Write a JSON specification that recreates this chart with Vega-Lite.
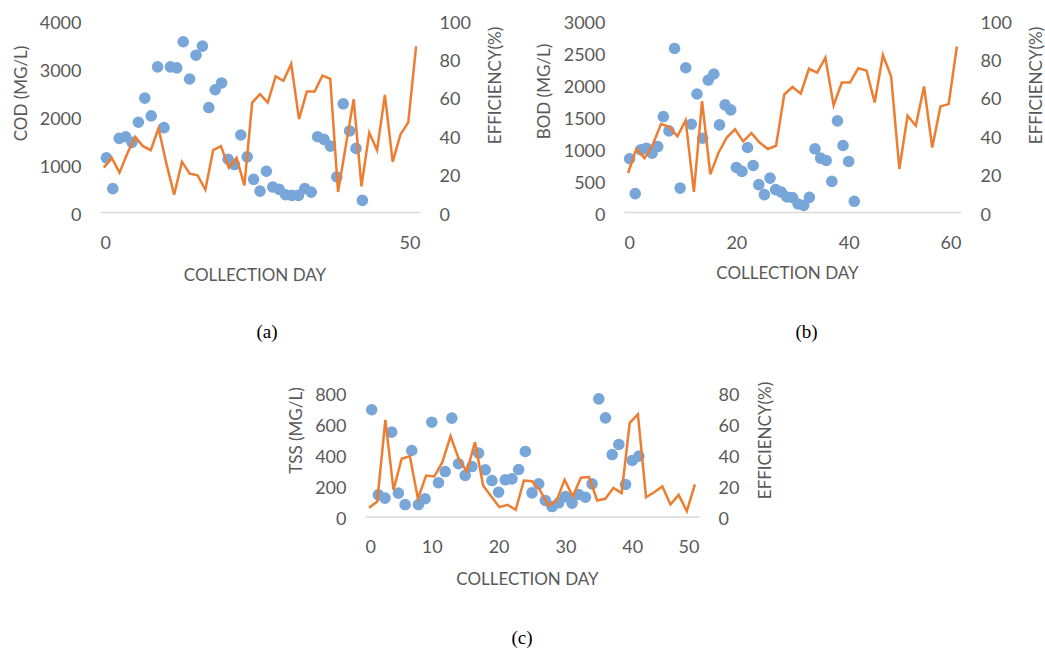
{
  "$schema": "https://vega.github.io/schema/vega-lite/v6.json",
  "padding": {"left": 12, "top": 14, "right": 5, "bottom": 5},
  "background": "white",
  "config": {
    "view": {"stroke": null},
    "font": "Lato",
    "axis": {"labelFont": "Lato", "titleFont": "Lato", "labelFontSize": 18, "titleFontSize": 17, "labelColor": "#595959", "titleColor": "#595959", "titleFontWeight": "normal", "grid": false, "ticks": false, "domain": false, "labelPadding": 19, "format": "d"},
    "axisY": {"labelOffset": 3},
    "title": {"font": "Liberation Serif", "fontSize": 19, "fontWeight": "normal", "color": "#000000"}
  },
  "datasets": {
    "a": [
      {"day": 1, "cod": 1128, "eff": 23.1}, {"day": 2, "cod": 486, "eff": 28.2}, {"day": 3, "cod": 1535, "eff": 20.5}, {"day": 4, "cod": 1568, "eff": 30.5}, {"day": 5, "cod": 1451, "eff": 39.2}, {"day": 6, "cod": 1870, "eff": 34.3}, {"day": 7, "cod": 2373, "eff": 32.2}, {"day": 8, "cod": 2002, "eff": 43.6}, {"day": 9, "cod": 3023, "eff": 25.3}, {"day": 10, "cod": 1757, "eff": 9.0},
      {"day": 11, "cod": 3023, "eff": 26.1}, {"day": 12, "cod": 3002, "eff": 20.0}, {"day": 13, "cod": 3547, "eff": 19.1}, {"day": 14, "cod": 2771, "eff": 11.6}, {"day": 15, "cod": 3266, "eff": 32.2}, {"day": 16, "cod": 3455, "eff": 34.3}, {"day": 17, "cod": 2176, "eff": 23.1}, {"day": 18, "cod": 2547, "eff": 28.2}, {"day": 19, "cod": 2688, "eff": 13.9}, {"day": 20, "cod": 1100, "eff": 57.0},
      {"day": 21, "cod": 989, "eff": 61.4}, {"day": 22, "cod": 1604, "eff": 57.0}, {"day": 23, "cod": 1149, "eff": 70.6}, {"day": 24, "cod": 681, "eff": 68.3}, {"day": 25, "cod": 436, "eff": 77.1}, {"day": 26, "cod": 849, "eff": 48.4}, {"day": 27, "cod": 520, "eff": 62.7}, {"day": 28, "cod": 472, "eff": 62.7}, {"day": 29, "cod": 360, "eff": 71.1}, {"day": 30, "cod": 346, "eff": 69.4},
      {"day": 31, "cod": 346, "eff": 10.4}, {"day": 32, "cod": 486, "eff": 34.7}, {"day": 33, "cod": 415, "eff": 58.7}, {"day": 34, "cod": 1568, "eff": 13.4}, {"day": 35, "cod": 1514, "eff": 41.3}, {"day": 36, "cod": 1373, "eff": 32.2}, {"day": 37, "cod": 730, "eff": 61.0}, {"day": 38, "cod": 2254, "eff": 26.1}, {"day": 39, "cod": 1688, "eff": 40.4}, {"day": 40, "cod": 1325, "eff": 46.7},
      {"day": 41, "cod": 241, "eff": 86.3}
    ],
    "b": [
      {"day": 1, "bod": 832, "eff": 20.3}, {"day": 2, "bod": 287, "eff": 32.9}, {"day": 3, "bod": 972, "eff": 28.1}, {"day": 4, "bod": 997, "eff": 35.0}, {"day": 5, "bod": 919, "eff": 45.8}, {"day": 6, "bod": 1023, "eff": 44.3}, {"day": 7, "bod": 1491, "eff": 39.4}, {"day": 8, "bod": 1268, "eff": 47.8}, {"day": 9, "bod": 2555, "eff": 10.5}, {"day": 10, "bod": 374, "eff": 57.8},
      {"day": 11, "bod": 2254, "eff": 19.6}, {"day": 12, "bod": 1371, "eff": 30.9}, {"day": 13, "bod": 1844, "eff": 38.8}, {"day": 14, "bod": 1153, "eff": 43.1}, {"day": 15, "bod": 2062, "eff": 36.8}, {"day": 16, "bod": 2156, "eff": 41.1}, {"day": 17, "bod": 1361, "eff": 36.2}, {"day": 18, "bod": 1673, "eff": 32.8}, {"day": 19, "bod": 1595, "eff": 34.5}, {"day": 20, "bod": 696, "eff": 61.2},
      {"day": 21, "bod": 634, "eff": 65.1}, {"day": 22, "bod": 1008, "eff": 61.6}, {"day": 23, "bod": 727, "eff": 74.6}, {"day": 24, "bod": 427, "eff": 72.6}, {"day": 25, "bod": 271, "eff": 80.4}, {"day": 26, "bod": 530, "eff": 55.5}, {"day": 27, "bod": 349, "eff": 67.4}, {"day": 28, "bod": 312, "eff": 67.4}, {"day": 29, "bod": 235, "eff": 74.9}, {"day": 30, "bod": 225, "eff": 73.7},
      {"day": 31, "bod": 125, "eff": 57.0}, {"day": 32, "bod": 104, "eff": 81.8}, {"day": 33, "bod": 229, "eff": 70.6}, {"day": 34, "bod": 988, "eff": 22.4}, {"day": 35, "bod": 841, "eff": 50.1}, {"day": 36, "bod": 805, "eff": 44.9}, {"day": 37, "bod": 478, "eff": 65.4}, {"day": 38, "bod": 1424, "eff": 33.6}, {"day": 39, "bod": 1039, "eff": 55.0}, {"day": 40, "bod": 790, "eff": 56.2},
      {"day": 41, "bod": 167, "eff": 86.2}
    ],
    "c": [
      {"day": 1, "tss": 686, "eff": 5.6}, {"day": 2, "tss": 139, "eff": 9.6}, {"day": 3, "tss": 118, "eff": 62.1}, {"day": 4, "tss": 542, "eff": 17.1}, {"day": 5, "tss": 150, "eff": 37.1}, {"day": 6, "tss": 77, "eff": 38.8}, {"day": 7, "tss": 424, "eff": 11.4}, {"day": 8, "tss": 77, "eff": 26.3}, {"day": 9, "tss": 114, "eff": 25.7}, {"day": 10, "tss": 606, "eff": 34.9},
      {"day": 11, "tss": 217, "eff": 51.6}, {"day": 12, "tss": 289, "eff": 37.1}, {"day": 13, "tss": 632, "eff": 28.9}, {"day": 14, "tss": 339, "eff": 47.8}, {"day": 15, "tss": 264, "eff": 19.9}, {"day": 16, "tss": 321, "eff": 12.9}, {"day": 17, "tss": 407, "eff": 6.0}, {"day": 18, "tss": 300, "eff": 7.5}, {"day": 19, "tss": 231, "eff": 4.3}, {"day": 20, "tss": 156, "eff": 23.1},
      {"day": 21, "tss": 236, "eff": 22.7}, {"day": 22, "tss": 242, "eff": 16.7}, {"day": 23, "tss": 302, "eff": 7.1}, {"day": 24, "tss": 418, "eff": 9.9}, {"day": 25, "tss": 152, "eff": 23.6}, {"day": 26, "tss": 210, "eff": 12.9}, {"day": 27, "tss": 103, "eff": 24.9}, {"day": 28, "tss": 64, "eff": 25.3}, {"day": 29, "tss": 88, "eff": 10.3}, {"day": 30, "tss": 128, "eff": 11.4},
      {"day": 31, "tss": 86, "eff": 18.4}, {"day": 32, "tss": 141, "eff": 15.0}, {"day": 33, "tss": 124, "eff": 60.2}, {"day": 34, "tss": 210, "eff": 65.6}, {"day": 35, "tss": 756, "eff": 12.4}, {"day": 36, "tss": 634, "eff": 15.6}, {"day": 37, "tss": 398, "eff": 19.3}, {"day": 38, "tss": 463, "eff": 7.7}, {"day": 39, "tss": 206, "eff": 13.9}, {"day": 40, "tss": 360, "eff": 3.4},
      {"day": 41, "tss": 388, "eff": 20.6}
    ],
    "blank": [{"k": 1}]
  },
  "bounds": "flush",
  "spacing": 372,
  "vconcat": [
    {
      "bounds": "flush",
      "spacing": 204,
      "hconcat": [
        {
          "width": 320, "height": 192,
          "data": {"name": "a"},
          "title": {"text": "(a)", "orient": "bottom", "anchor": "middle", "frame": "group", "offset": 40, "dx": 7},
          "layer": [
            {"mark": {"type": "circle", "size": 135, "opacity": 1, "color": "#78A6D8"},
             "encoding": {
               "x": {"field": "day", "type": "quantitative", "scale": {"domain": [0, 50], "nice": false}, "axis": {"values": [0, 50], "domain": true, "domainColor": "#D9D9D9", "domainWidth": 1.5, "labelPadding": 22, "title": "COLLECTION DAY", "titlePadding": 15, "titleX": 154.5}},
               "y": {"field": "cod", "type": "quantitative", "scale": {"domain": [0, 4000], "nice": false}, "axis": {"values": [0, 1000, 2000, 3000, 4000], "title": "COD (MG/L)", "titlePadding": 8.5, "titleY": 73}}
             }},
            {"mark": {"type": "line", "color": "#ED7D31", "strokeWidth": 2.5},
             "encoding": {
               "x": {"field": "day", "type": "quantitative", "scale": {"domain": [0.5, 41.5], "nice": false}, "axis": null},
               "y": {"field": "eff", "type": "quantitative", "scale": {"domain": [0, 100], "nice": false}, "axis": {"orient": "right", "values": [0, 20, 40, 60, 80, 100], "title": "EFFICIENCY(%)", "titleAngle": -90, "titlePadding": 34, "titleY": 65}}
             }}
          ],
          "resolve": {"scale": {"x": "independent", "y": "independent"}}
        },
        {
          "width": 337, "height": 192,
          "data": {"name": "b"},
          "title": {"text": "(b)", "orient": "bottom", "anchor": "middle", "frame": "group", "offset": 42, "dx": 14},
          "layer": [
            {"mark": {"type": "circle", "size": 135, "opacity": 1, "color": "#78A6D8"},
             "encoding": {
               "x": {"field": "day", "type": "quantitative", "scale": {"domain": [0, 60], "nice": false}, "axis": {"values": [0, 20, 40, 60], "domain": true, "domainColor": "#D9D9D9", "domainWidth": 1.5, "labelPadding": 22, "title": "COLLECTION DAY", "titlePadding": 13, "titleX": 163}},
               "y": {"field": "bod", "type": "quantitative", "scale": {"domain": [0, 3000], "nice": false}, "axis": {"values": [0, 500, 1000, 1500, 2000, 2500, 3000], "title": "BOD (MG/L)", "titlePadding": 10, "titleY": 71}}
             }},
            {"mark": {"type": "line", "color": "#ED7D31", "strokeWidth": 2.5},
             "encoding": {
               "x": {"field": "day", "type": "quantitative", "scale": {"domain": [0.5, 41.5], "nice": false}, "axis": null},
               "y": {"field": "eff", "type": "quantitative", "scale": {"domain": [0, 100], "nice": false}, "axis": {"orient": "right", "values": [0, 20, 40, 60, 80, 100], "title": "EFFICIENCY(%)", "titleAngle": -90, "titlePadding": 34, "titleY": 65}}
             }}
          ],
          "resolve": {"scale": {"x": "independent", "y": "independent"}}
        }
      ]
    },
    {
      "bounds": "flush",
      "spacing": 0,
      "hconcat": [
        {"width": 265, "height": 124, "data": {"name": "blank"}, "mark": "text", "encoding": {"text": {"value": ""}}},
        {
          "width": 334, "height": 124.5,
          "data": {"name": "c"},
          "title": {"text": "(c)", "orient": "bottom", "anchor": "middle", "frame": "group", "offset": 41, "dx": -10},
          "layer": [
            {"mark": {"type": "circle", "size": 135, "opacity": 1, "color": "#78A6D8"},
             "encoding": {
               "x": {"field": "day", "type": "quantitative", "scale": {"domain": [0, 50], "nice": false}, "axis": {"values": [0, 10, 20, 30, 40, 50], "domain": true, "domainColor": "#D9D9D9", "domainWidth": 1.5, "labelPadding": 22, "title": "COLLECTION DAY", "titlePadding": 15, "titleX": 162}},
               "y": {"field": "tss", "type": "quantitative", "scale": {"domain": [0, 800], "nice": false}, "axis": {"values": [0, 200, 400, 600, 800], "title": "TSS (MG/L)", "titlePadding": 9, "titleY": 38}}
             }},
            {"mark": {"type": "line", "color": "#ED7D31", "strokeWidth": 2.5},
             "encoding": {
               "x": {"field": "day", "type": "quantitative", "scale": {"domain": [0.5, 41.5], "nice": false}, "axis": null},
               "y": {"field": "eff", "type": "quantitative", "scale": {"domain": [0, 80], "nice": false}, "axis": {"orient": "right", "values": [0, 20, 40, 60, 80], "title": "EFFICIENCY(%)", "titleAngle": -90, "titlePadding": 36, "titleY": 48}}
             }}
          ],
          "resolve": {"scale": {"x": "independent", "y": "independent"}}
        }
      ]
    }
  ]
}
